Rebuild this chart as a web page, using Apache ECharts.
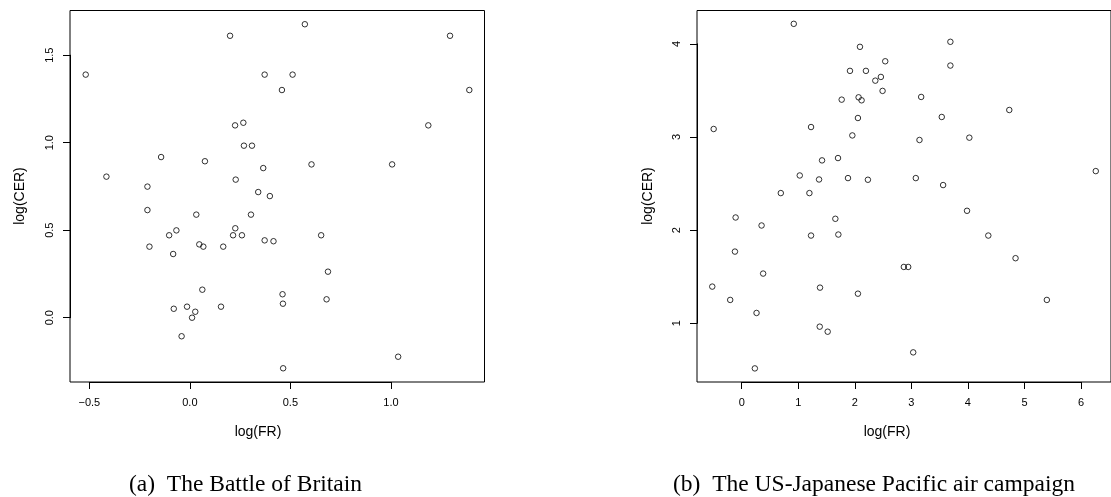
<!DOCTYPE html>
<html>
<head>
<meta charset="utf-8">
<script src="https://cdn.jsdelivr.net/npm/echarts@6/dist/echarts.min.js"></script>
<style>
	html, body { margin: 0; padding: 0; background: #fff; }
	#chart { width: 1111px; height: 497px; }
</style>
</head>
<body>
<div id="chart"></div>
<script>
// (a) Battle of Britain
var britainFR = [-0.518, 0.200, -0.415, -0.211, -0.143, 0.075, 0.225, 0.266, 0.269, 0.309, 0.228, 0.572, 1.294, 0.372, 0.511, 0.458, 1.390, 1.186, 0.365, 0.605, 1.006, 0.340, 0.398, -0.211, -0.201, -0.103, -0.067, -0.083, 0.032, 0.047, 0.067, 0.166, 0.215, 0.226, 0.259, 0.304, 0.062, -0.080, -0.014, 0.027, 0.011, -0.041, 0.155, 0.372, 0.416, 0.653, 0.687, 0.461, 0.463, 0.680, 1.036, 0.464];
var britainCER = [1.389, 1.611, 0.806, 0.749, 0.918, 0.894, 1.099, 1.114, 0.983, 0.983, 0.789, 1.677, 1.611, 1.389, 1.389, 1.301, 1.301, 1.099, 0.855, 0.876, 0.876, 0.718, 0.695, 0.615, 0.406, 0.471, 0.499, 0.364, 0.589, 0.419, 0.406, 0.406, 0.471, 0.511, 0.471, 0.589, 0.160, 0.051, 0.063, 0.034, 0.000, -0.106, 0.063, 0.442, 0.437, 0.471, 0.263, 0.134, 0.080, 0.105, -0.223, -0.289];
var britainXTicks = [-0.5, 0, 0.5, 1.0];
var britainYTicks = [0, 0.5, 1.0, 1.5];

// (b) US-Japanese Pacific air campaign
var pacificFR = [0.925, -0.495, 2.098, 1.921, 2.204, 2.370, 1.774, 2.074, 2.127, 2.062, 1.963, 1.231, 1.709, 1.426, 1.031, 1.373, 1.886, 2.239, 0.695, 1.202, 3.701, 3.701, 2.546, 2.469, 2.499, 3.183, 3.548, 4.745, 3.153, 4.037, 6.278, 3.088, 3.572, -0.106, 0.354, 1.662, 1.231, 1.715, -0.118, 0.382, -0.520, 1.390, 2.062, -0.202, 0.265, 1.385, 1.526, 0.235, 3.996, 4.373, 4.856, 2.876, 2.953, 5.411, 3.042];
var pacificCER = [4.215, 3.086, 3.968, 3.710, 3.710, 3.605, 3.401, 3.426, 3.394, 3.204, 3.017, 3.107, 2.774, 2.749, 2.587, 2.544, 2.559, 2.541, 2.398, 2.398, 4.022, 3.767, 3.813, 3.645, 3.495, 3.430, 3.215, 3.290, 2.968, 2.993, 2.634, 2.559, 2.484, 2.136, 2.050, 2.122, 1.942, 1.953, 1.770, 1.534, 1.394, 1.383, 1.318, 1.251, 1.111, 0.964, 0.910, 0.516, 2.208, 1.942, 1.699, 1.605, 1.605, 1.251, 0.688];
var pacificXTicks = [0, 1, 2, 3, 4, 5, 6];
var pacificYTicks = [1, 2, 3, 4];

var axisFont = 'Liberation Sans, Arial, sans-serif';
var captionFont = 'Liberation Serif, Times New Roman, serif';

var grids = [];
var xAxes = [];
var yAxes = [];

function pairs(xs, ys) {
	var out = [];
	for (var i = 0; i < xs.length; i++) {
		out.push([xs[i], ys[i]]);
	}
	return out;
}

function fmt1(v) {
	return v.toFixed(1).replace('-', '\u2212');
}

function fmt0(v) {
	return String(Math.round(v));
}

function hiddenAxis(gridIndex, min, max) {
	return { type : 'value', gridIndex : gridIndex, min : min, max : max, show : false };
}

//visible R style axis: line from first to last tick, ticks outside
function tickAxis(gridIndex, ticks, formatter, isY) {
	return {
		type : 'value',
		gridIndex : gridIndex,
		min : ticks[0],
		max : ticks[ticks.length - 1],
		interval : ticks[1] - ticks[0],
		axisLine : { show : true, lineStyle : { color : '#000', width : 1 } },
		splitLine : { show : false },
		axisTick : { show : true, inside : false, length : 7, lineStyle : { color : '#000', width : 1 } },
		axisLabel : {
			formatter : formatter,
			rotate : isY ? 90 : 0,
			margin : 15,
			color : '#000',
			fontSize : 11,
			fontFamily : axisFont,
			showMinLabel : true,
			showMaxLabel : true
		}
	};
}

//one panel: a boxed data grid plus two grids that only carry the tick axes
function addPanel(box, xr, yr, xt, yt, formatter) {
	var idx = grids.length;
	grids.push({ left : box.left, top : box.top, width : box.width, height : box.height, show : true, borderColor : '#000', borderWidth : 1, backgroundColor : 'transparent' });
	xAxes.push(hiddenAxis(idx, xr[0], xr[1]));
	yAxes.push(hiddenAxis(idx, yr[0], yr[1]));

	var x0 = box.left + (xt[0] - xr[0]) / (xr[1] - xr[0]) * box.width;
	var x1 = box.left + (xt[xt.length - 1] - xr[0]) / (xr[1] - xr[0]) * box.width;
	grids.push({ left : x0, top : box.top, width : x1 - x0, height : box.height });
	xAxes.push(tickAxis(idx + 1, xt, formatter, false));
	yAxes.push(hiddenAxis(idx + 1, 0, 1));

	var yTop = box.top + (yr[1] - yt[yt.length - 1]) / (yr[1] - yr[0]) * box.height;
	var yBot = box.top + (yr[1] - yt[0]) / (yr[1] - yr[0]) * box.height;
	grids.push({ left : box.left, top : yTop, width : box.width, height : yBot - yTop });
	xAxes.push(hiddenAxis(idx + 2, 0, 1));
	yAxes.push(tickAxis(idx + 2, yt, formatter, true));
	return idx;
}

function scatter(gridIndex, data) {
	return {
		type : 'scatter',
		xAxisIndex : gridIndex,
		yAxisIndex : gridIndex,
		data : data,
		symbol : 'circle',
		symbolSize : 5.5,
		silent : true,
		itemStyle : {
			color : 'rgba(0,0,0,0)',
			borderColor : '#000',
			borderWidth : 1
		}
	};
}

function label(text, x, y, size, font, rotation) {
	return {
		type : 'text',
		x : x,
		y : y,
		rotation : rotation || 0,
		style : {
			text : text,
			fontSize : size,
			fontFamily : font,
			fill : '#000',
			textAlign : 'center',
			textVerticalAlign : 'middle'
		}
	};
}

var gA = addPanel({ left : 70, top : 10.5, width : 414.5, height : 371.5 }, [-0.5961, 1.4655], [-0.3674, 1.7554], britainXTicks, britainYTicks, fmt1);
var gB = addPanel({ left : 697, top : 10.5, width : 415, height : 371.5 }, [-0.7905, 6.548], [0.3699, 4.3581], pacificXTicks, pacificYTicks, fmt0);

var charts = echarts.init(document.getElementById('chart'));
var option = {
	backgroundColor : '#fff',
	animation : false,
	grid : grids,
	xAxis : xAxes,
	yAxis : yAxes,
	series : [
		scatter(gA, pairs(britainFR, britainCER)),
		scatter(gB, pairs(pacificFR, pacificCER))
	],
	graphic : [
		label('log(FR)', 258, 432, 14, axisFont),
		label('log(FR)', 887, 432, 14, axisFont),
		label('log(CER)', 20, 196, 14, axisFont, Math.PI / 2),
		label('log(CER)', 648, 196, 14, axisFont, Math.PI / 2),
		label('(a)\u2002The Battle of Britain', 245.5, 485, 23.5, captionFont),
		label('(b)\u2002The US-Japanese Pacific air campaign', 874, 485, 23.5, captionFont)
	]
};
charts.setOption(option);
</script>
</body>
</html>
